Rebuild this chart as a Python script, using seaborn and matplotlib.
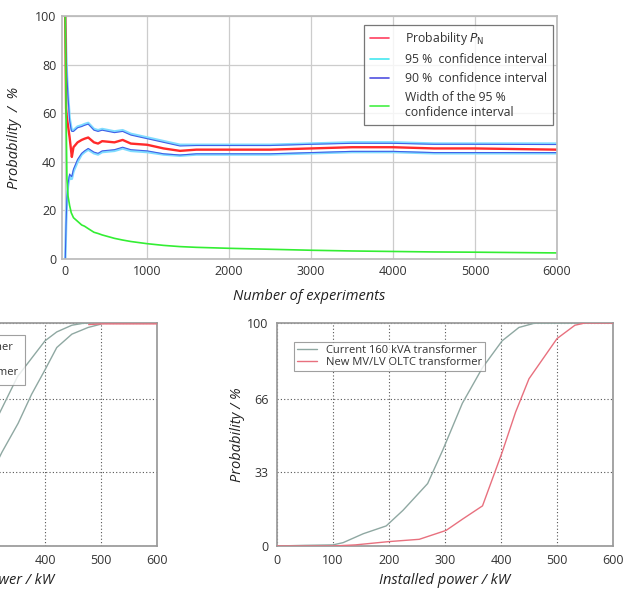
import numpy as np
import pandas as pd
import matplotlib
matplotlib.use("Agg")
import matplotlib.pyplot as plt
import seaborn as sns

# ---- top chart data (convergence of Monte Carlo) ----
n_exp = [0, 10, 20, 33, 53, 73, 80, 100, 150, 200, 235, 280, 350, 400, 450, 600, 700,
         800, 1000, 1200, 1400, 1600, 2000, 2500, 3000, 3500, 4000, 4500, 5000, 6000]
p_n = [100, 62, 58, 55, 50, 44, 42, 46, 48, 49, 49.5, 50, 48, 47.5, 48.5, 48, 49,
       47.5, 47, 45.5, 44.5, 45, 45, 45, 45.5, 46, 46, 45.5, 45.5, 45]
ci95_up = [100, 86, 76, 68, 58, 54, 53, 53, 54.5, 55, 55.5, 56, 53.5, 53, 53.5, 52.5, 53,
           51.5, 50, 48.5, 47, 47, 47, 47, 47.5, 48, 48, 47.5, 47.5, 47.5]
ci95_lo = [0, 14, 24, 30, 34, 33, 33, 36, 40, 43, 44, 45, 43.5, 43, 44, 44.5, 45.5,
           44.5, 44, 43, 42.5, 43, 43, 43, 43.5, 44, 44, 43.5, 43.5, 43.5]
ci90_up = [100, 85, 75, 67, 57, 53, 52.5, 52.5, 54, 54.5, 55, 55.5, 53, 52.5, 53, 52, 52.5,
           51, 49.5, 48, 46.5, 46.7, 46.7, 46.7, 47.2, 47.6, 47.6, 47.2, 47.2, 47.1]
ci90_lo = [0, 15, 25, 31, 35, 34, 34, 37, 41, 43.5, 44.5, 45.5, 44, 43.5, 44.5, 45, 46,
           45, 44.5, 43.3, 42.8, 43.3, 43.3, 43.3, 43.8, 44.3, 44.3, 43.8, 43.8, 43.8]
width95 = [100, 60, 33, 26, 22, 19, 18.5, 17, 15.5, 14, 13.5, 12.5, 11, 10.5, 9.9, 8.5, 7.8,
           7.2, 6.3, 5.6, 5.1, 4.8, 4.4, 4.0, 3.6, 3.3, 3.1, 2.9, 2.8, 2.5]

# ---- bottom-right chart data (CDF of installed power) ----
pw_current = [0, 50, 100, 118, 154, 195, 225, 269, 296, 331, 367, 402, 432, 461, 600]
pr_current = [0, 0.3, 0.5, 1.5, 5.5, 9, 16, 28, 43, 64, 80, 92, 98, 100, 100]
pw_new = [0, 100, 140, 201, 254, 302, 331, 367, 402, 426, 450, 500, 532, 550, 600]
pr_new = [0, 0, 0.5, 2, 3, 7, 12, 18, 42, 60, 75, 93, 99, 100, 100]

# ---- bottom-left chart data (partly visible) ----
pwl_a = [0, 150, 250, 300, 351, 400, 421, 448, 471, 600]
prl_a = [0, 2, 25, 50, 76, 92, 96, 99, 100, 100]
pwl_b = [0, 200, 280, 323, 352, 376, 400, 421, 448, 477, 500]
prl_b = [0, 2, 20, 42, 55, 68, 79, 89, 95, 98, 99.5]
pwl_c = [478, 500, 600]
prl_c = [99.3, 99.6, 99.6]

legend_labels = ["Current 160 kVA transformer", "New MV/LV OLTC transformer"]

sns.set_theme(style="white")
plt.rcParams["font.family"] = ["Open Sans", "DejaVu Sans"]

fig = plt.figure(figsize=(6.36, 5.9), dpi=100)

tick_color = "#333333"
spine_color = "#999999"
c_gray = "#8fa8a2"
c_pink = "#e8707e"

# ---------------- top axes ----------------
ax1 = fig.add_axes([62 / 636, 1 - 259 / 590, 495 / 636, 243 / 590])
df_top = pd.DataFrame({"n": n_exp, "p": p_n, "u95": ci95_up, "l95": ci95_lo,
                       "u90": ci90_up, "l90": ci90_lo, "w": width95})
c_red, c_cyan, c_blue, c_green = "#ff2a2a", "#7fdcff", "#4060e8", "#33ee33"
sns.lineplot(data=df_top, x="n", y="u95", ax=ax1, color=c_cyan, lw=1.8)
sns.lineplot(data=df_top, x="n", y="l95", ax=ax1, color=c_cyan, lw=1.8)
sns.lineplot(data=df_top, x="n", y="u90", ax=ax1, color=c_blue, lw=0.8)
sns.lineplot(data=df_top, x="n", y="l90", ax=ax1, color=c_blue, lw=0.8)
sns.lineplot(data=df_top, x="n", y="p", ax=ax1, color=c_red, lw=1.7)
sns.lineplot(data=df_top, x="n", y="w", ax=ax1, color=c_green, lw=1.2)
ax1.set_xlim(-40, 6000)
ax1.set_ylim(0, 100)
ax1.set_xticks(range(0, 6001, 1000))
ax1.set_yticks(range(0, 101, 20))
ax1.grid(True, color="#cccccc", lw=0.9)
for s in ax1.spines.values():
    s.set_color("#bbbbbb")
ax1.tick_params(labelsize=9, colors=tick_color, length=0, pad=4)
ax1.set_xlabel("Number of experiments", fontsize=10.5, style="italic", color="#222222", labelpad=8)
ax1.set_ylabel("Probability  /  %", fontsize=10.5, style="italic", color="#222222")
ax1.yaxis.set_label_coords(-0.08, 0.5)
handles = [plt.Line2D([], [], color="#ff4060", lw=1.2),
           plt.Line2D([], [], color="#44e8f0", lw=1.2),
           plt.Line2D([], [], color="#5050e0", lw=1.2),
           plt.Line2D([], [], color="#44f044", lw=1.2)]
labels = [r"Probability $\mathit{P}_{\mathrm{N}}$", "95 %  confidence interval",
          "90 %  confidence interval", "Width of the 95 %\nconfidence interval"]
leg = ax1.legend(handles, labels, loc="upper right", bbox_to_anchor=(1.004, 0.99),
                 fontsize=8.8, frameon=True, fancybox=False, handlelength=1.6,
                 handletextpad=1.3, labelspacing=0.5, borderpad=0.45)
leg.get_frame().set_edgecolor("#555555")
leg.get_frame().set_linewidth(0.9)
for t in leg.get_texts():
    t.set_color("#333333")


def cdf_axes(rect, series, leg_anchor, spacing, bpad):
    ax = fig.add_axes(rect)
    for xs, ys, col in series:
        d = pd.DataFrame({"x": xs, "y": ys})
        sns.lineplot(data=d, x="x", y="y", ax=ax, color=col, lw=1.0, zorder=5)
    ax.set_xlim(0, 600)
    ax.set_ylim(0, 100)
    ax.set_xticks(range(0, 601, 100))
    ax.set_yticks([0, 33, 66, 100])
    ax.grid(True, color="#555555", lw=0.8, ls=(0, (1, 2)))
    for s in ax.spines.values():
        s.set_color(spine_color)
    ax.tick_params(labelsize=9, colors=tick_color, length=0, pad=6)
    ax.set_xlabel("Installed power / kW", fontsize=10.5, style="italic", color="#222222", labelpad=4)
    ax.set_ylabel("Probability / %", fontsize=10.5, style="italic", color="#222222")
    ax.yaxis.set_label_coords(-0.095, 0.5)
    hs = [plt.Line2D([], [], color=c_gray, lw=1.0),
          plt.Line2D([], [], color=c_pink, lw=1.0)]
    lg = ax.legend(hs, legend_labels, loc="upper left", bbox_to_anchor=leg_anchor,
                   fontsize=8.0, frameon=True, fancybox=False, handlelength=1.8,
                   handletextpad=0.8, labelspacing=spacing, borderpad=bpad)
    lg.get_frame().set_edgecolor("#888888")
    lg.get_frame().set_linewidth(0.8)
    lg.set_zorder(10)
    for t in lg.get_texts():
        t.set_color("#333333")
    return ax


cdf_axes([277 / 636, 1 - 546 / 590, 336 / 636, 223 / 590],
         [(pw_current, pr_current, c_gray), (pw_new, pr_new, c_pink)], (0.035, 0.94), 0.15, 0.25)
cdf_axes([-179 / 636, 1 - 546 / 590, 336 / 636, 223 / 590],
         [(pwl_a, prl_a, c_gray), (pwl_b, prl_b, c_gray), (pwl_c, prl_c, c_pink)],
         (0.0, 0.97), 1.3, 0.6)

fig.savefig("out.png", dpi=100)
